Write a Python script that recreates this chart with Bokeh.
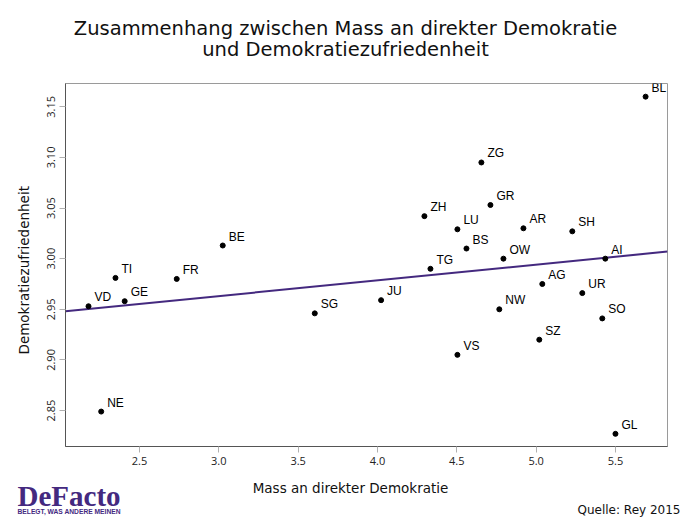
import math
from bokeh.plotting import figure
from bokeh.layouts import column
from bokeh.models import Range1d, ColumnDataSource, FixedTicker, Title
from bokeh.core.properties import value, field
from bokeh.embed import file_html
from bokeh.resources import INLINE

# --- data ---
kantone = ["BL", "ZG", "GR", "ZH", "LU", "AR", "SH", "BS", "OW", "AI", "TG",
           "AG", "UR", "NW", "SO", "SZ", "VS", "GL", "BE", "TI", "FR", "GE",
           "VD", "NE", "SG", "JU"]
direkte_demokratie = [5.69, 4.655, 4.712, 4.296, 4.504, 4.920, 5.228, 4.561, 4.794,
                      5.436, 4.334, 5.039, 5.291, 4.768, 5.417, 5.020, 4.504, 5.50,
                      3.025, 2.349, 2.735, 2.407, 2.179, 2.259, 3.605, 4.023]
zufriedenheit = [3.160, 3.095, 3.053, 3.042, 3.029, 3.030, 3.027, 3.010, 3.000,
                 3.000, 2.990, 2.975, 2.966, 2.950, 2.941, 2.920, 2.905, 2.827,
                 3.013, 2.981, 2.980, 2.958, 2.953, 2.849, 2.946, 2.959]
fit_x = [2.034, 5.828]
fit_y = [2.948, 3.007]
x_ticks = [2.5, 3.0, 3.5, 4.0, 4.5, 5.0, 5.5]
y_ticks = [2.85, 2.90, 2.95, 3.00, 3.05, 3.10, 3.15]

title_lines = ["Zusammenhang zwischen Mass an direkter Demokratie",
               "und Demokratiezufriedenheit"]
x_label = "Mass an direkter Demokratie"
y_label = "Demokratiezufriedenheit"
logo = "DeFacto"
logo_claim = "BELEGT, WAS ANDERE MEINEN"
source_note = "Quelle: Rey 2015"

PURPLE = "#44297f"
W = 700


def text_strip(height):
    f = figure(width=W, height=height, output_backend="svg", toolbar_location=None,
               x_range=Range1d(0, W), y_range=Range1d(height, 0),
               x_axis_location=None, y_axis_location=None, min_border=0,
               frame_align=False)
    f.title.visible = False
    f.xgrid.visible = False
    f.ygrid.visible = False
    f.outline_line_color = None
    return f


# --- top strip: title ---
top = text_strip(70)
top.text(x=[345, 345], y=[28, 49], text=title_lines, text_align="center",
         text_baseline="alphabetic", text_font=value("DejaVu Sans"),
         text_font_size="19.5px", text_color="#111111")

# --- main plot ---
p = figure(width=W, height=405, output_backend="svg", toolbar_location=None,
           x_range=Range1d(2.034, 5.828), y_range=Range1d(2.8145, 3.173),
           min_border_left=65, min_border_right=33, min_border_top=13,
           min_border_bottom=29, frame_align=False)
p.title.visible = False
p.xgrid.visible = False
p.ygrid.visible = False
p.outline_line_color = "#9a9a9a"

for ax in (p.xaxis[0], p.yaxis[0]):
    ax.axis_line_color = "#555555"
    ax.major_tick_line_color = "#b0b0b0"
    ax.major_tick_out = 6
    ax.major_tick_in = 0
    ax.minor_tick_line_color = None
    ax.major_label_text_font = "Open Sans"
    ax.major_label_text_font_size = "11px"
    ax.major_label_text_color = "#222222"
    ax.major_label_standoff = 4

p.xaxis.ticker = FixedTicker(ticks=x_ticks)
p.yaxis.ticker = FixedTicker(ticks=y_ticks)
p.xaxis.major_label_overrides = {t: f"{t:.1f}" for t in x_ticks}
p.yaxis.major_label_overrides = {t: f"{t:.2f}" for t in y_ticks}
p.yaxis.major_label_orientation = "parallel"

p.add_layout(Title(text=y_label, align="left", offset=92, standoff=26,
                   text_font="DejaVu Sans", text_font_size="13.5px",
                   text_font_style="normal", text_color="#111111"), "left")

src = ColumnDataSource(dict(x=direkte_demokratie, y=zufriedenheit, name=kantone))
p.line(fit_x, fit_y, line_color=PURPLE, line_width=2)
p.scatter("x", "y", source=src, size=5, color="black")
p.text("x", "y", text="name", source=src, x_offset=6, y_offset=-2,
       text_baseline="bottom", text_font=value("Liberation Sans"),
       text_font_size="12px", text_color="black")

# --- bottom strip: x label, logo, source ---
bottom = text_strip(56)
bsrc = ColumnDataSource(dict(
    x=[350, 17, 17, 680],
    y=[12, 20, 36, 34],
    text=[x_label, logo, logo_claim, source_note],
    font=["DejaVu Sans", "Liberation Serif", "Liberation Sans", "DejaVu Sans"],
    size=["13.5px", "29px", "6.7px", "12px"],
    style=["normal", "bold", "bold", "normal"],
    color=["#111111", PURPLE, PURPLE, "#111111"],
    align=["center", "left", "left", "right"],
))
bottom.text("x", "y", text="text", source=bsrc, text_font=field("font"),
            text_font_size=field("size"), text_font_style=field("style"),
            text_color=field("color"), text_align=field("align"),
            text_baseline="alphabetic")

layout = column(top, p, bottom, spacing=0)
open("out.html", "w").write(file_html(layout, INLINE))
